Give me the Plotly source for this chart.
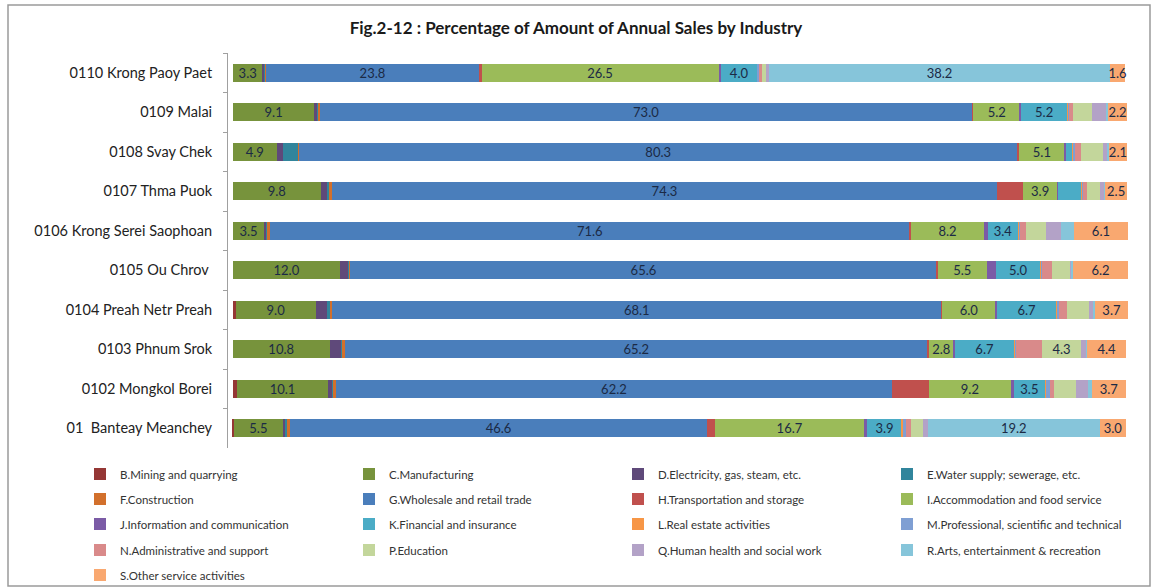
import plotly.graph_objects as go

categories = ["0110 Krong Paoy Paet", "0109 Malai", "0108 Svay Chek", "0107 Thma Puok",
              "0106 Krong Serei Saophoan", "0105 Ou Chrov ", "0104 Preah Netr Preah",
              "0103 Phnum Srok", "0102 Mongkol Borei", "01  Banteay Meanchey"]

series_names = ["B.Mining and quarrying", "C.Manufacturing", "D.Electricity, gas, steam, etc.",
                "E.Water supply; sewerage, etc.", "F.Construction", "G.Wholesale and retail trade",
                "H.Transportation and storage", "I.Accommodation and food service",
                "J.Information and communication", "K.Financial and insurance",
                "L.Real estate activities", "M.Professional, scientific and technical",
                "N.Administrative and support", "P.Education", "Q.Human health and social work",
                "R.Arts, entertainment & recreation", "S.Other service activities"]

B = [0.0, 0.0, 0.0, 0.0, 0.0, 0.0, 0.3, 0.0, 0.5, 0.1]
C = [3.3, 9.1, 4.9, 9.8, 3.5, 12.0, 9.0, 10.8, 10.1, 5.5]
D = [0.2, 0.4, 0.7, 0.8, 0.3, 0.9, 1.3, 1.3, 0.5, 0.3]
E = [0.1, 0.1, 1.7, 0.1, 0.1, 0.1, 0.2, 0.1, 0.2, 0.2]
F = [0.1, 0.1, 0.1, 0.4, 0.2, 0.1, 0.3, 0.3, 0.2, 0.3]
G = [23.8, 73.0, 80.3, 74.3, 71.6, 65.6, 68.1, 65.2, 62.2, 46.6]
H = [0.3, 0.1, 0.2, 2.9, 0.1, 0.1, 0.1, 0.1, 4.1, 0.9]
I = [26.5, 5.2, 5.1, 3.9, 8.2, 5.5, 6.0, 2.8, 9.2, 16.7]
J = [0.3, 0.1, 0.1, 0.1, 0.4, 1.0, 0.1, 0.1, 0.3, 0.3]
K = [4.0, 5.2, 0.8, 2.6, 3.4, 5.0, 6.7, 6.7, 3.5, 3.9]
L = [0.0, 0.1, 0.1, 0.1, 0.1, 0.1, 0.1, 0.1, 0.1, 0.1]
M = [0.2, 0.1, 0.2, 0.1, 0.1, 0.1, 0.2, 0.1, 0.5, 0.3]
N = [0.4, 0.4, 0.6, 0.4, 0.7, 1.1, 0.8, 2.9, 0.4, 0.6]
P = [0.5, 2.1, 2.5, 1.5, 2.2, 2.0, 2.5, 4.3, 2.5, 1.4]
Q = [0.2, 1.7, 0.5, 0.4, 1.7, 0.2, 0.5, 0.6, 1.3, 0.5]
R = [38.2, 0.1, 0.1, 0.1, 1.4, 0.1, 0.2, 0.1, 0.5, 19.2]
S = [1.6, 2.2, 2.1, 2.5, 6.1, 6.2, 3.7, 4.4, 3.7, 3.0]

values = [B, C, D, E, F, G, H, I, J, K, L, M, N, P, Q, R, S]

colors = ["#953735", "#77933C", "#5F497A", "#31859C", "#D2702C", "#4A7EBB", "#C0504D",
          "#9BBB59", "#7B5BA6", "#4BACC6", "#F79646", "#7F9FD3", "#D98A8A", "#C3D69B",
          "#B3A2C7", "#86C5DA", "#F9A870"]

labeled = {"C", "G", "I", "K", "P", "R"}

FONT = "Lato, 'Open Sans', sans-serif"

W, H_ = 1152, 587
ml, mr, mt, mb = 228, 22, 53, 139
pw, ph = W - ml - mr, H_ - mt - mb
legend_rows_y = [474, 499, 524, 550, 575]


def py(y_px):
    return (H_ - mb - y_px) / ph


def px(x_px):
    return (x_px - ml) / pw


fig = go.Figure()
for i, (name, vals, col) in enumerate(zip(series_names, values, colors)):
    code = name[0]
    texts = []
    for v in vals:
        if code == "S" or (code in labeled and v >= 2.75):
            texts.append(f"{v:.1f}")
        else:
            texts.append("")
    row = i // 4
    fig.add_trace(go.Bar(
        y=categories, x=vals, name=name, orientation="h",
        marker=dict(color=col, line=dict(width=0)),
        text=texts, textposition="inside", insidetextanchor="middle", textangle=0,
        textfont=dict(family=FONT, size=13, color="#1B2A45"),
        cliponaxis=False,
        legend="legend" if row == 0 else f"legend{row + 1}",
    ))

legend_common = dict(orientation="h", xref="paper", yref="paper", xanchor="left",
                     yanchor="middle", entrywidth=224, entrywidthmode="pixels",
                     itemwidth=30, bgcolor="rgba(0,0,0,0)",
                     font=dict(family=FONT, size=11.5, color="#333333"),
                     traceorder="normal")
legends = {}
for r, yr in enumerate(legend_rows_y):
    key = "legend" if r == 0 else f"legend{r + 1}"
    legends[key] = dict(legend_common, x=px(80), y=py(yr))

fig.update_layout(
    width=W, height=H_,
    barmode="stack", bargap=0.55,
    margin=dict(l=ml, r=mr, t=mt, b=mb, autoexpand=False),
    paper_bgcolor="white", plot_bgcolor="white",
    uniformtext=dict(minsize=12, mode="show"),
    title=dict(text="<b>Fig.2-12 : Percentage of Amount of Annual Sales by Industry</b>",
               x=0.5, xanchor="center", xref="container", y=1 - 28 / H_, yanchor="middle",
               font=dict(family=FONT, size=17, color="#1a1a1a")),
    xaxis=dict(range=[-0.55, 100.3], showgrid=False, showticklabels=False, zeroline=False,
               showline=False, ticks=""),
    yaxis=dict(autorange="reversed", showgrid=False, showline=True, linecolor="#A0A0A0",
               linewidth=1, ticks="outside", ticklen=4, tickcolor="#A0A0A0",
               tickson="boundaries", ticklabelstandoff=12, automargin=False,
               tickfont=dict(family=FONT, size=14.5, color="#222222")),
    shapes=[dict(type="rect", xref="paper", yref="paper",
                 x0=px(8), x1=px(W - 2),
                 y0=py(H_ - 1), y1=py(5),
                 line=dict(color="#9A9A9A", width=1.5), layer="below")],
    **legends,
)

fig.write_html("out.html", config={"displayModeBar": False},
               post_script="document.body.style.margin='0';document.body.style.overflow='hidden';")
